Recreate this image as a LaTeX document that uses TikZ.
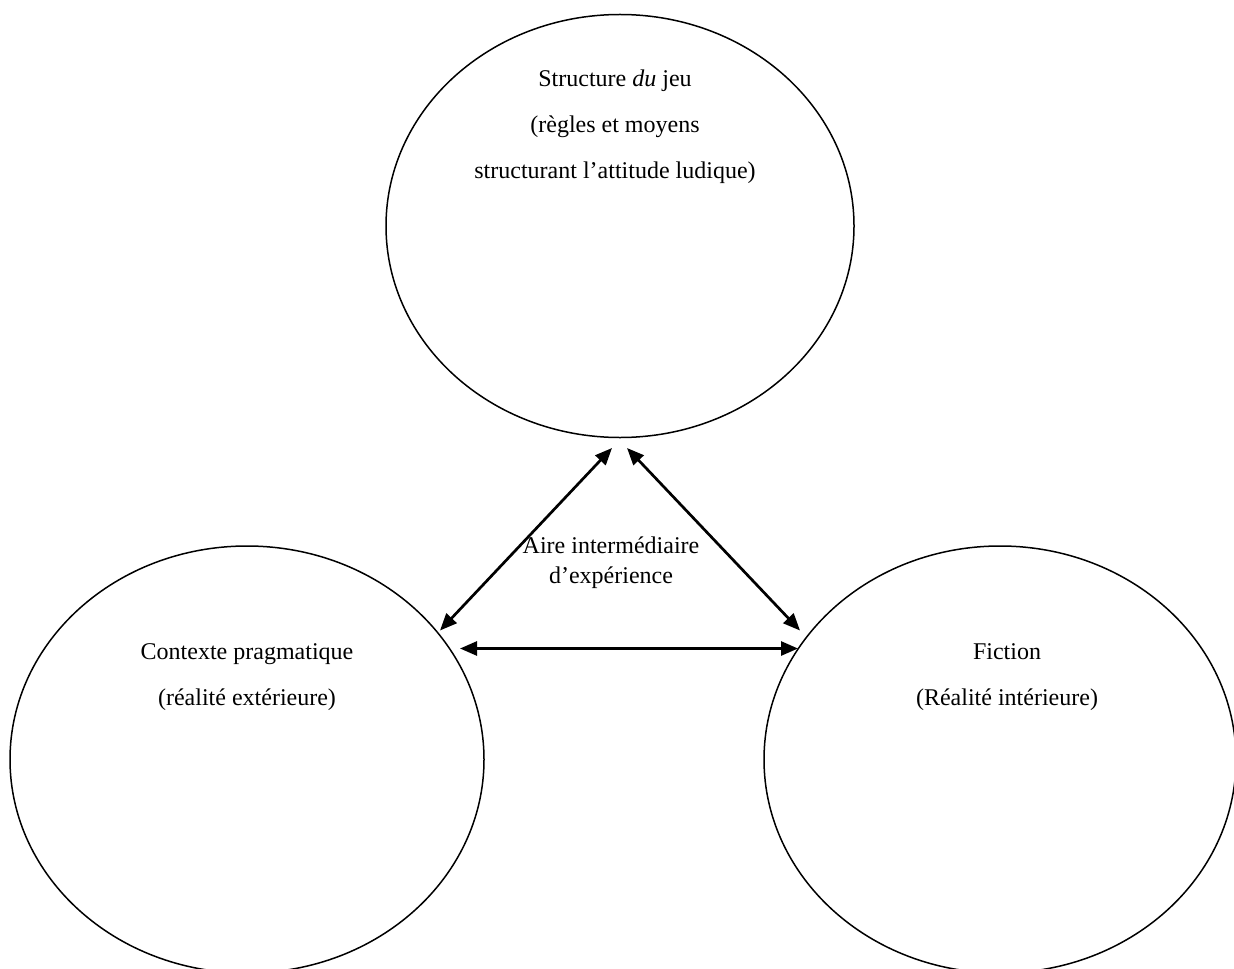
\documentclass[tikz,border=0pt]{standalone}
\usepackage{fontspec}
\setmainfont{Liberation Serif}
\usepackage{tikz}
\usetikzlibrary{shapes}
\usetikzlibrary{arrows.meta}

\tikzset{
  zone/.style={ellipse, draw, line width=0.75pt, inner sep=0pt},
  zonetext/.style={align=center, font=\fontsize{12}{23}\selectfont},
  biarrow/.style={{Triangle[length=8.5pt,width=7pt]}-{Triangle[length=8.5pt,width=7pt]}, line width=1.35pt}
}

\begin{document}
\begin{tikzpicture}[x=0.5pt, y=-0.5pt]
\useasboundingbox (0,0) rectangle (1234,968);
\clip (0,0) rectangle (1234,968);

\node (jeu) at (620,226) [zone, minimum width=234pt, minimum height=211.5pt] {};
\node (ctx) at (247,759.5) [zone, minimum width=237pt, minimum height=213.5pt] {};
\node (fic) at (1000,759.5) [zone, minimum width=236pt, minimum height=213.5pt] {};

\node (jeuT) at (615,127) [zonetext] {Structure \textit{du} jeu\\(règles et moyens\\structurant l’attitude ludique)};
\node (ctxT) at (247,677) [zonetext] {Contexte pragmatique\\(réalité extérieure)};
\node (ficT) at (1007,677) [zonetext] {Fiction\\(Réalité intérieure)};
\node (aire) at (611,563) [align=center, font=\fontsize{12}{15}\selectfont] {Aire intermédiaire\\d’expérience};

\draw [biarrow] ([shift={(193,-129)}]ctx.center) -- ([shift={(-8,222)}]jeu.center);
\draw [biarrow] ([shift={(7,222)}]jeu.center) -- ([shift={(-200,-129)}]fic.center);
\draw [biarrow] ([shift={(213,-111)}]ctx.center) -- ([shift={(-202,-111)}]fic.center);
\end{tikzpicture}
\end{document}
